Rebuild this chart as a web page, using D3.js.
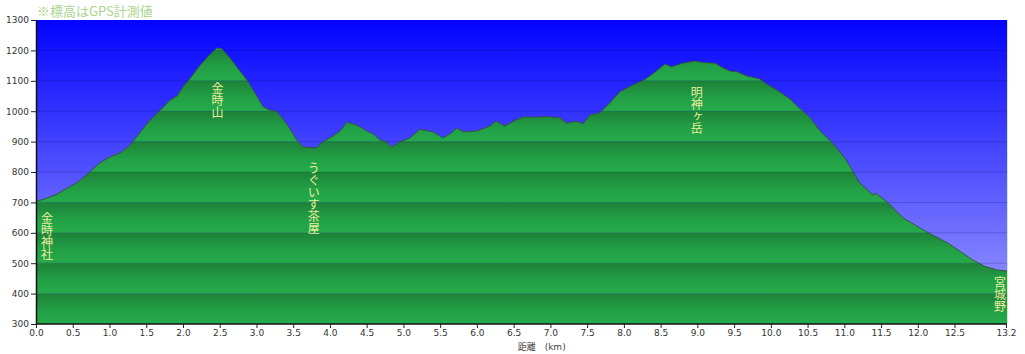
<!DOCTYPE html>
<html>
<head>
<meta charset="utf-8">
<script src="https://cdn.jsdelivr.net/npm/d3@7"></script>
<style>
  body { margin: 0; background: #fff; }
  svg { display: block; }
</style>
</head>
<body>
<div id="chart"></div>
<script>
// DATA - elevation profile
const distKm = [0.00, 0.12, 0.26, 0.41, 0.56, 0.71, 0.87, 1.01, 1.14, 1.28, 1.41, 1.55, 1.69, 1.82, 1.92, 2.00,
  2.12, 2.23, 2.34, 2.46, 2.53, 2.64, 2.75, 2.87, 2.98, 3.09, 3.18, 3.27, 3.36, 3.46, 3.55, 3.63, 3.73, 3.82,
  3.89, 4.04, 4.14, 4.23, 4.37, 4.50, 4.59, 4.68, 4.76, 4.84, 4.95, 5.09, 5.22, 5.40, 5.54, 5.63, 5.73, 5.81,
  6.00, 6.18, 6.26, 6.38, 6.52, 6.63, 6.79, 6.95, 7.13, 7.22, 7.36, 7.44, 7.54, 7.67, 7.81, 7.95, 8.11, 8.29,
  8.42, 8.56, 8.65, 8.80, 8.97, 9.07, 9.24, 9.33, 9.44, 9.54, 9.67, 9.85, 9.92, 10.08, 10.26, 10.39, 10.53,
  10.67, 10.84, 11.01, 11.21, 11.39, 11.43, 11.59, 11.80, 12.12, 12.41, 12.57, 12.75, 12.91, 13.07, 13.22];
const elevM = [703, 712, 724, 745, 765, 795, 830, 850, 862, 888, 928, 970, 1003, 1035, 1050, 1080,
  1115, 1150, 1180, 1208, 1205, 1175, 1140, 1103, 1060, 1015, 1003, 1000, 975, 940, 905, 883, 880, 880,
  897, 918, 935, 964, 954, 935, 925, 905, 900, 882, 899, 912, 940, 932, 912, 925, 945, 932,
  935, 951, 968, 951, 970, 981, 980, 982, 978, 961, 967, 958, 988, 994, 1028, 1065, 1085, 1105,
  1128, 1155, 1146, 1158, 1165, 1160, 1158, 1145, 1132, 1130, 1116, 1106, 1093, 1070, 1040, 1010, 980,
  935, 895, 845, 764, 724, 730, 700, 649, 603, 566, 540, 510, 490, 478, 474];

const xTicks = [0, 0.5, 1, 1.5, 2, 2.5, 3, 3.5, 4, 4.5, 5, 5.5, 6, 6.5, 7, 7.5, 8, 8.5, 9, 9.5,
  10, 10.5, 11, 11.5, 12, 12.5, 13.2];
const yTicks = [300, 400, 500, 600, 700, 800, 900, 1000, 1100, 1200, 1300];

// place names: km position and elevation of the top of the vertical text
const placeNames = ["金時神社", "金時山", "うぐいす茶屋", "明神ヶ岳", "宮城野"];
const placeKm = [0.15, 2.47, 3.78, 8.99, 13.12];
const placeTop = [668, 1096, 830, 1083, 458];

const noteText = "※標高はGPS計測値";
const xTitle = "距離　(km)";

// CONSTANTS
const width = 1025, height = 354;
const margin = {top: 20, right: 19, bottom: 30, left: 36};

const svg = d3.select("#chart").append("svg")
  .attr("width", width)
  .attr("height", height);

// SCALES
const xScale = d3.scaleLinear()
  .domain([0, 13.2])
  .range([margin.left, width - margin.right]);
const yScale = d3.scaleLinear()
  .domain([300, 1300])
  .range([height - margin.bottom, margin.top]);

const x0 = xScale(0), x1 = xScale(13.2) + 1;
const yTop = yScale(1300), yBot = yScale(300);

const defs = svg.append("defs");

// sky gradient
const sky = defs.append("linearGradient").attr("id", "sky")
  .attr("x1", 0).attr("y1", 0).attr("x2", 0).attr("y2", 1);
sky.append("stop").attr("offset", "0%").attr("stop-color", "#0303ff");
sky.append("stop").attr("offset", "100%").attr("stop-color", "#a0a0ff");

// green band gradient (dark under each gridline, lighter toward the next)
const band = defs.append("linearGradient").attr("id", "band")
  .attr("x1", 0).attr("y1", 0).attr("x2", 0).attr("y2", 1);
band.append("stop").attr("offset", "0%").attr("stop-color", "#1d8238");
band.append("stop").attr("offset", "55%").attr("stop-color", "#22a045");
band.append("stop").attr("offset", "100%").attr("stop-color", "#25ab4b");

const profile = distKm.map((d, i) => ({km: d, m: elevM[i]}));

const area = d3.area()
  .x(d => xScale(d.km))
  .y0(yBot)
  .y1(d => yScale(d.m));
const line = d3.line()
  .x(d => xScale(d.km))
  .y(d => yScale(d.m));

defs.append("clipPath").attr("id", "ground")
  .append("path").attr("d", area(profile));
defs.append("clipPath").attr("id", "plot")
  .append("rect").attr("x", x0).attr("y", yTop).attr("width", x1 - x0).attr("height", yBot - yTop);

// BACKGROUND
svg.append("rect")
  .attr("x", x0).attr("y", yTop)
  .attr("width", x1 - x0).attr("height", yBot - yTop)
  .attr("fill", "url(#sky)");

// gridlines in the sky
svg.append("g")
  .selectAll("line")
  .data(yTicks.slice(1, -1))
  .join("line")
  .attr("x1", x0).attr("x2", x1)
  .attr("y1", d => yScale(d)).attr("y2", d => yScale(d))
  .attr("stroke", "rgba(0,0,70,0.2)")
  .attr("stroke-width", 1);

// GROUND - banded green, clipped to the profile
const ground = svg.append("g").attr("clip-path", "url(#plot)")
  .append("g").attr("clip-path", "url(#ground)");
ground.selectAll("rect")
  .data(yTicks.slice(1))
  .join("rect")
  .attr("x", x0).attr("width", x1 - x0)
  .attr("y", d => yScale(d))
  .attr("height", d => yScale(d - 100) - yScale(d))
  .attr("fill", "url(#band)");
ground.selectAll("line")
  .data(yTicks.slice(1, -1))
  .join("line")
  .attr("x1", x0).attr("x2", x1)
  .attr("y1", d => yScale(d)).attr("y2", d => yScale(d))
  .attr("stroke", "rgba(0,60,20,0.15)")
  .attr("stroke-width", 1);

// profile outline
svg.append("path")
  .datum(profile)
  .attr("d", line)
  .attr("fill", "none")
  .attr("stroke", "#35573a")
  .attr("stroke-width", 1);

// right edge
svg.append("line")
  .attr("x1", x1 + 0.5).attr("x2", x1 + 0.5)
  .attr("y1", yTop).attr("y2", yBot)
  .attr("stroke", "#cfe8cf").attr("stroke-width", 1);

// AXES
const xAxis = d3.axisBottom(xScale)
  .tickValues(xTicks)
  .tickFormat(d3.format(".1f"))
  .tickSize(4)
  .tickSizeOuter(0);
const yAxis = d3.axisLeft(yScale)
  .tickValues(yTicks)
  .tickFormat(d => d)
  .tickSize(5)
  .tickSizeOuter(0);

const xAxisGroup = svg.append("g")
  .attr("transform", `translate(0, ${yBot})`)
  .call(xAxis);
const yAxisGroup = svg.append("g")
  .attr("transform", `translate(${x0}, 0)`)
  .call(yAxis);

[xAxisGroup, yAxisGroup].forEach(g => {
  g.select(".domain").attr("stroke", "#111").attr("stroke-width", 1.5);
  g.selectAll(".tick line").attr("stroke", "#222");
  g.selectAll(".tick text")
    .attr("fill", "#333")
    .style("font-family", "'DejaVu Sans', Verdana, sans-serif")
    .style("font-size", "9px");
});
xAxisGroup.select(".domain").attr("d", `M${x0},0H${x1}`);
xAxisGroup.selectAll(".tick text").attr("dy", "0.9em").attr("y", 4);
yAxisGroup.selectAll(".tick text").attr("x", -7);

// axis title
svg.append("text")
  .attr("x", xScale(6.5) + 4)
  .attr("y", height - 4)
  .attr("fill", "#444")
  .style("font-family", "'DejaVu Sans', 'Noto Sans CJK JP', sans-serif")
  .style("font-size", "9px")
  .text(xTitle);

// note on top
svg.append("text")
  .attr("x", 37)
  .attr("y", 16)
  .attr("fill", "#a9d48c")
  .style("font-family", "'Noto Sans CJK JP', sans-serif")
  .style("font-size", "13px")
  .text(noteText);

// PLACE LABELS (vertical)
svg.append("g")
  .selectAll("text")
  .data(placeNames)
  .join("text")
  .attr("x", (d, i) => xScale(placeKm[i]))
  .attr("y", (d, i) => yScale(placeTop[i]))
  .style("writing-mode", "vertical-rl")
  .style("text-orientation", "upright")
  .style("letter-spacing", "0px")
  .attr("fill", "#ecec9e")
  .style("font-family", "'Noto Sans CJK JP', sans-serif")
  .style("font-size", "12px")
  .text(d => d);
</script>
</body>
</html>
